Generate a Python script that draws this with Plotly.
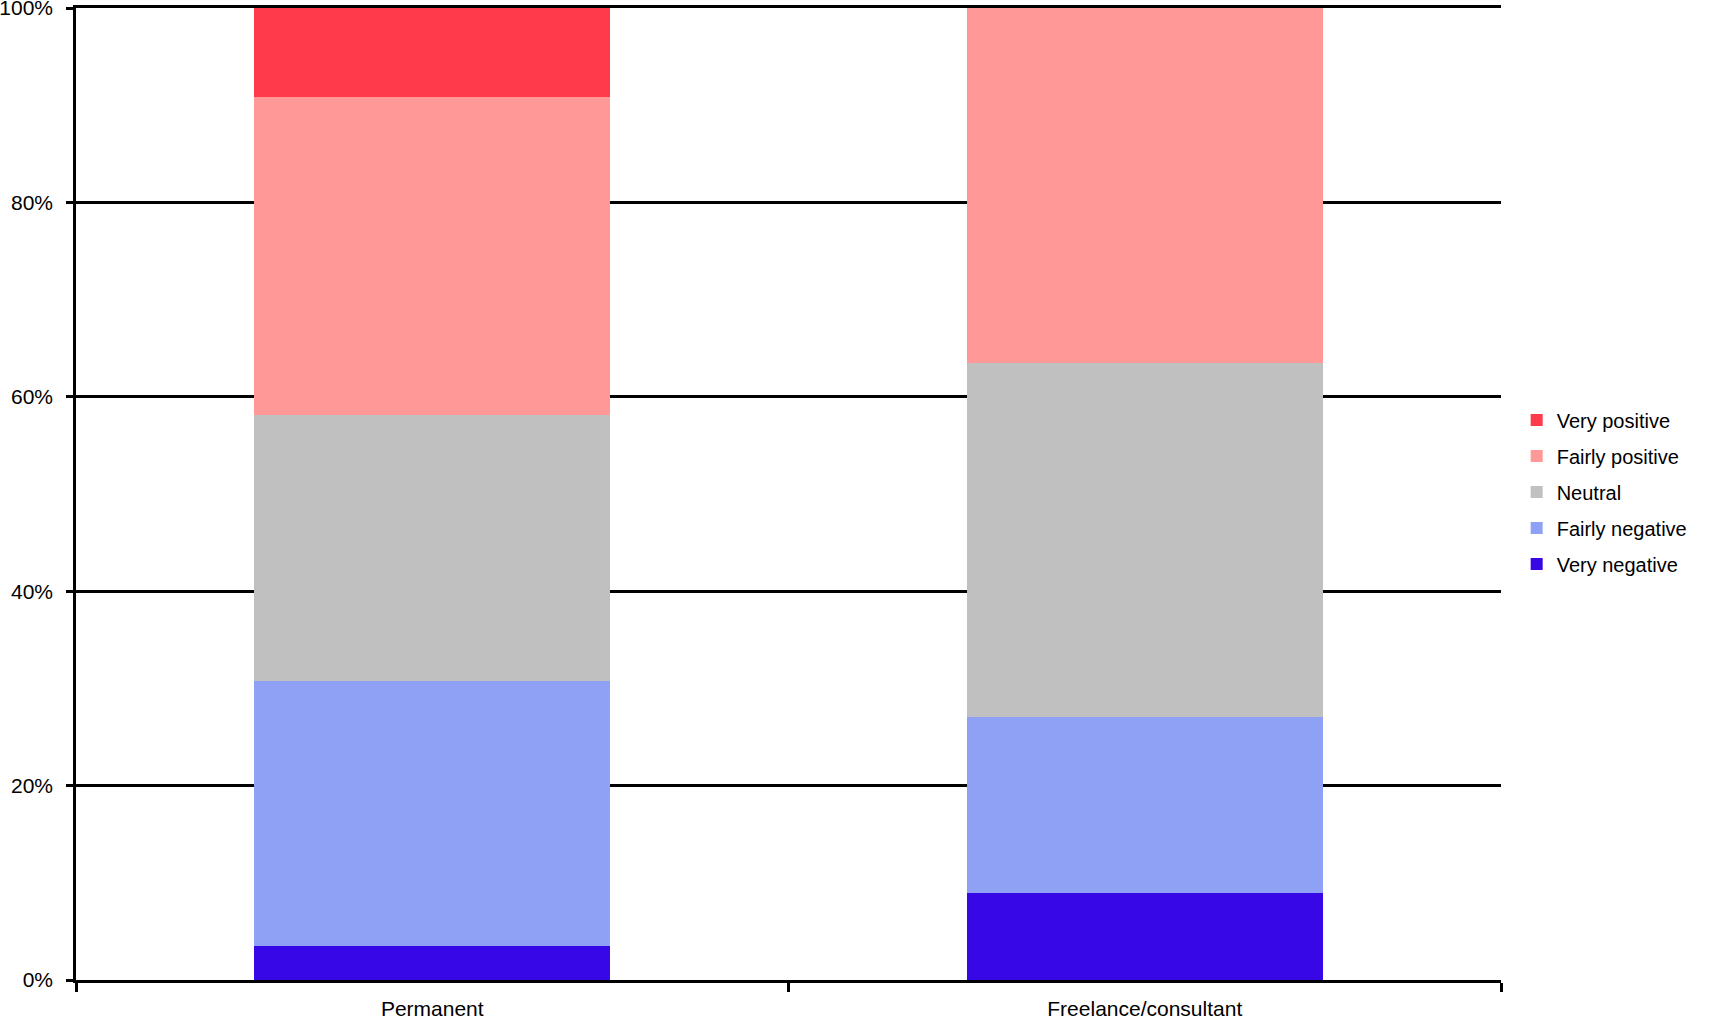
import plotly.graph_objects as go

categories = ["Permanent", "Freelance/consultant"]
very_negative = [3.5, 9.0]
fairly_negative = [27.3, 18.1]
neutral = [27.3, 36.4]
fairly_positive = [32.7, 36.5]
very_positive = [9.2, 0.0]

tick_vals = [0, 20, 40, 60, 80, 100]
tick_text = ["0%", "20%", "40%", "60%", "80%", "100%"]

series = [
    ("Very negative", very_negative, "#3807E5", 5),
    ("Fairly negative", fairly_negative, "#8FA1F4", 4),
    ("Neutral", neutral, "#C0C0C0", 3),
    ("Fairly positive", fairly_positive, "#FF9896", 2),
    ("Very positive", very_positive, "#FF3A4B", 1),
]

FONT = "Liberation Sans, Arial, sans-serif"

fig = go.Figure()
for name, vals, col, rank in series:
    fig.add_trace(go.Bar(
        x=categories, y=vals, name=name, legendgroup=name, legendrank=rank,
        marker=dict(color=col, line=dict(width=0)),
    ))

fig.update_layout(
    width=1718, height=1021,
    barmode="stack", bargap=0.5,
    plot_bgcolor="white", paper_bgcolor="white",
    margin=dict(l=76, r=217, t=8, b=41, pad=0, autoexpand=False),
    font=dict(family=FONT, size=21, color="black"),
    legend=dict(
        x=1.011, y=0.502, xanchor="left", yanchor="middle",
        traceorder="grouped", tracegroupgap=7,
        font=dict(family=FONT, size=20, color="black"),
        bgcolor="rgba(0,0,0,0)",
    ),
    xaxis=dict(
        showline=True, linecolor="black", linewidth=2.5, automargin=False,
        ticks="outside", tickson="boundaries", ticklen=9, tickwidth=2.5,
        tickcolor="black", showgrid=False, mirror=True,
        tickfont=dict(family=FONT, size=21, color="black"),
        ticklabelstandoff=8,
    ),
    yaxis=dict(
        range=[0, 100], tickmode="array", tickvals=tick_vals, ticktext=tick_text,
        showline=True, linecolor="black", linewidth=2.5, automargin=False,
        ticks="outside", ticklen=7, tickwidth=2.5, tickcolor="black",
        showgrid=True, gridcolor="black", gridwidth=2.5,
        zeroline=False, ticklabeloverflow="allow",
        tickfont=dict(family=FONT, size=21, color="black"),
        ticklabelstandoff=9,
    ),
)

fig.write_html("out.html")
